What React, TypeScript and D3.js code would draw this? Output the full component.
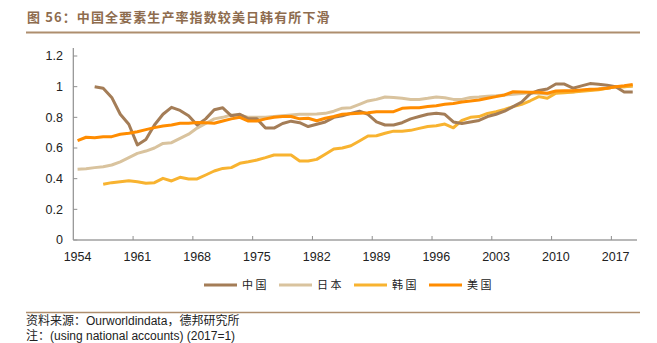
import React from "react";
import * as d3 from "d3";

const years: number[] = d3.range(1954, 2020);

const chinaStart = 1956;
const china: number[] = [
  1.0, 0.99, 0.93, 0.82, 0.755, 0.62, 0.655, 0.75, 0.82, 0.865,
  0.845, 0.81, 0.75, 0.79, 0.85, 0.862, 0.81, 0.82, 0.79, 0.79,
  0.73, 0.73, 0.76, 0.775, 0.765, 0.74, 0.755, 0.77, 0.8, 0.81,
  0.826, 0.84, 0.82, 0.77, 0.75, 0.75, 0.765, 0.79, 0.805, 0.82,
  0.826, 0.82, 0.77, 0.76, 0.77, 0.78, 0.805, 0.82, 0.84, 0.87,
  0.9, 0.955, 0.975, 0.985, 1.017, 1.017, 0.99, 1.005, 1.02, 1.015,
  1.01, 1.0, 0.965, 0.965,
];

const japanStart = 1954;
const japan: number[] = [
  0.461, 0.465, 0.472, 0.478, 0.489, 0.51, 0.537, 0.565, 0.58, 0.6,
  0.63, 0.635, 0.663, 0.69, 0.73, 0.76, 0.79, 0.8, 0.815, 0.815,
  0.8, 0.8, 0.8, 0.805, 0.81, 0.815, 0.82, 0.82, 0.822, 0.826,
  0.84, 0.86, 0.863, 0.885, 0.907, 0.917, 0.933, 0.93, 0.924, 0.917,
  0.917, 0.924, 0.933, 0.928, 0.917, 0.917, 0.93, 0.932, 0.937, 0.94,
  0.945, 0.95, 0.955, 0.96, 0.955, 0.952, 0.96, 0.965, 0.965, 0.975,
  0.978, 0.985, 0.99, 1.0, 1.0, 1.005,
];

const koreaStart = 1957;
const korea: number[] = [
  0.363, 0.374, 0.38, 0.387, 0.38, 0.37, 0.374, 0.402, 0.385, 0.409,
  0.398, 0.398, 0.424, 0.45, 0.467, 0.472, 0.5, 0.51, 0.522, 0.537,
  0.554, 0.554, 0.554, 0.515, 0.515, 0.526, 0.559, 0.593, 0.6, 0.615,
  0.646, 0.678, 0.68, 0.696, 0.71, 0.71, 0.715, 0.728, 0.74, 0.745,
  0.756, 0.732, 0.78, 0.8, 0.805, 0.826, 0.837, 0.852, 0.87, 0.885,
  0.908, 0.935, 0.924, 0.957, 0.96, 0.965, 0.97, 0.975, 0.98, 0.99,
  1.0, 1.0, 1.005,
];

const usaStart = 1954;
const usa: number[] = [
  0.648, 0.67, 0.667, 0.674, 0.674, 0.69, 0.696, 0.706, 0.72, 0.733,
  0.744, 0.75, 0.761, 0.761, 0.767, 0.765, 0.761, 0.776, 0.79, 0.8,
  0.776, 0.776, 0.79, 0.8, 0.805, 0.805, 0.79, 0.794, 0.778, 0.794,
  0.805, 0.82, 0.824, 0.826, 0.83, 0.837, 0.837, 0.837, 0.859, 0.863,
  0.863, 0.87, 0.876, 0.885, 0.89, 0.9, 0.907, 0.913, 0.924, 0.935,
  0.946, 0.967, 0.965, 0.963, 0.963, 0.957, 0.972, 0.974, 0.974, 0.978,
  0.983, 0.985, 0.99, 1.0, 1.006, 1.015,
];

const seriesNames: string[] = ["中国", "日本", "韩国", "美国"];
const seriesColors: string[] = ["#A47D57", "#D9C39E", "#F8B330", "#FF8C00"];

const xTickLabels: number[] = [1954, 1961, 1968, 1975, 1982, 1989, 1996, 2003, 2010, 2017];
const yTicks: number[] = [0, 0.2, 0.4, 0.6, 0.8, 1, 1.2];

const title = "图 56：中国全要素生产率指数较美日韩有所下滑";
const source = "资料来源：Ourworldindata，德邦研究所";
const note = "注：(using national accounts) (2017=1)";

const W = 657;
const H = 343;
const plotLeft = 73.3;
const plotRight = 637;
const plotTop = 56;
const plotBottom = 240;

export default function App() {
  const x = d3.scaleBand<number>().domain(years).range([plotLeft, plotRight]).padding(0);
  const xc = (yr: number) => (x(yr) as number) + x.bandwidth() / 2;
  const y = d3.scaleLinear().domain([0, 1.2]).range([plotBottom, plotTop]);

  const allSeries = [
    { start: chinaStart, values: china },
    { start: japanStart, values: japan },
    { start: koreaStart, values: korea },
    { start: usaStart, values: usa },
  ];

  const line = d3
    .line<[number, number]>()
    .x((d) => xc(d[0]))
    .y((d) => y(d[1]))
    .curve(d3.curveLinear);

  const drawOrder = [1, 2, 0, 3];

  const tickYears = years.filter((yr, i) => i > 0 && i % 7 === 0);

  const legendX = [204, 279, 354, 429];
  const numFont = "'Liberation Sans', Arial, sans-serif";
  const cjkFont = "'Noto Sans CJK SC', sans-serif";
  const mixFont = "'Liberation Sans', Arial, 'Noto Sans CJK SC', sans-serif";

  return (
    <svg
      width={W}
      height={H}
      style={{ position: "absolute", left: 0, top: 0, background: "#fff" }}
    >
      <text
        x={27}
        y={22}
        fontFamily={cjkFont}
        fontSize={13}
        fontWeight="bold"
        fill="#8E6C4E"
        letterSpacing={1.1}
      >
        {title}
      </text>
      <line x1={26} x2={640} y1={32.5} y2={32.5} stroke="#AE8E6E" strokeWidth={2.2} />

      {/* y axis */}
      <line x1={plotLeft} x2={plotLeft} y1={plotTop - 8} y2={plotBottom} stroke="#8F8F8F" strokeWidth={1.2} />
      {yTicks.map((t) => (
        <g key={t}>
          <line x1={plotLeft} x2={plotLeft + 4} y1={y(t)} y2={y(t)} stroke="#8F8F8F" strokeWidth={1} />
          <text
            x={63}
            y={y(t)}
            dy="0.35em"
            textAnchor="end"
            fontFamily={numFont}
            fontSize={12.5}
            fill="#222"
          >
            {t === 0 || t === 1 ? String(t) : t.toFixed(1)}
          </text>
        </g>
      ))}

      {/* x axis */}
      <line x1={plotLeft} x2={plotRight} y1={plotBottom} y2={plotBottom} stroke="#A0A0A0" strokeWidth={1.6} />
      {tickYears.map((yr) => (
        <line
          key={yr}
          x1={x(yr) as number}
          x2={x(yr) as number}
          y1={plotBottom}
          y2={plotBottom - 4}
          stroke="#8F8F8F"
          strokeWidth={1}
        />
      ))}
      {xTickLabels.map((yr) => (
        <text
          key={yr}
          x={xc(yr)}
          y={261}
          textAnchor="middle"
          fontFamily={numFont}
          fontSize={12.5}
          fill="#222"
        >
          {yr}
        </text>
      ))}

      {/* lines */}
      {drawOrder.map((si) => {
        const s = allSeries[si];
        const pts: [number, number][] = s.values.map((v, i) => [s.start + i, v]);
        return (
          <path
            key={si}
            d={line(pts) || ""}
            fill="none"
            stroke={seriesColors[si]}
            strokeWidth={3}
            strokeLinejoin="round"
            strokeLinecap="butt"
          />
        );
      })}

      {/* legend */}
      {seriesNames.map((name, i) => (
        <g key={name}>
          <line
            x1={legendX[i]}
            x2={legendX[i] + 33}
            y1={285}
            y2={285}
            stroke={seriesColors[i]}
            strokeWidth={3}
          />
          <text
            x={legendX[i] + 38}
            y={285}
            dy="0.36em"
            fontFamily={cjkFont}
            fontSize={11}
            fill="#222"
            letterSpacing={2.5}
          >
            {name}
          </text>
        </g>
      ))}

      {/* footer */}
      <line x1={26} x2={640} y1={312.5} y2={312.5} stroke="#AE8E6E" strokeWidth={1.5} />
      <text x={26} y={325} fontFamily={mixFont} fontSize={12} fill="#222">
        {source}
      </text>
      <text x={26} y={340} fontFamily={mixFont} fontSize={12} fill="#222">
        {note}
      </text>
    </svg>
  );
}
